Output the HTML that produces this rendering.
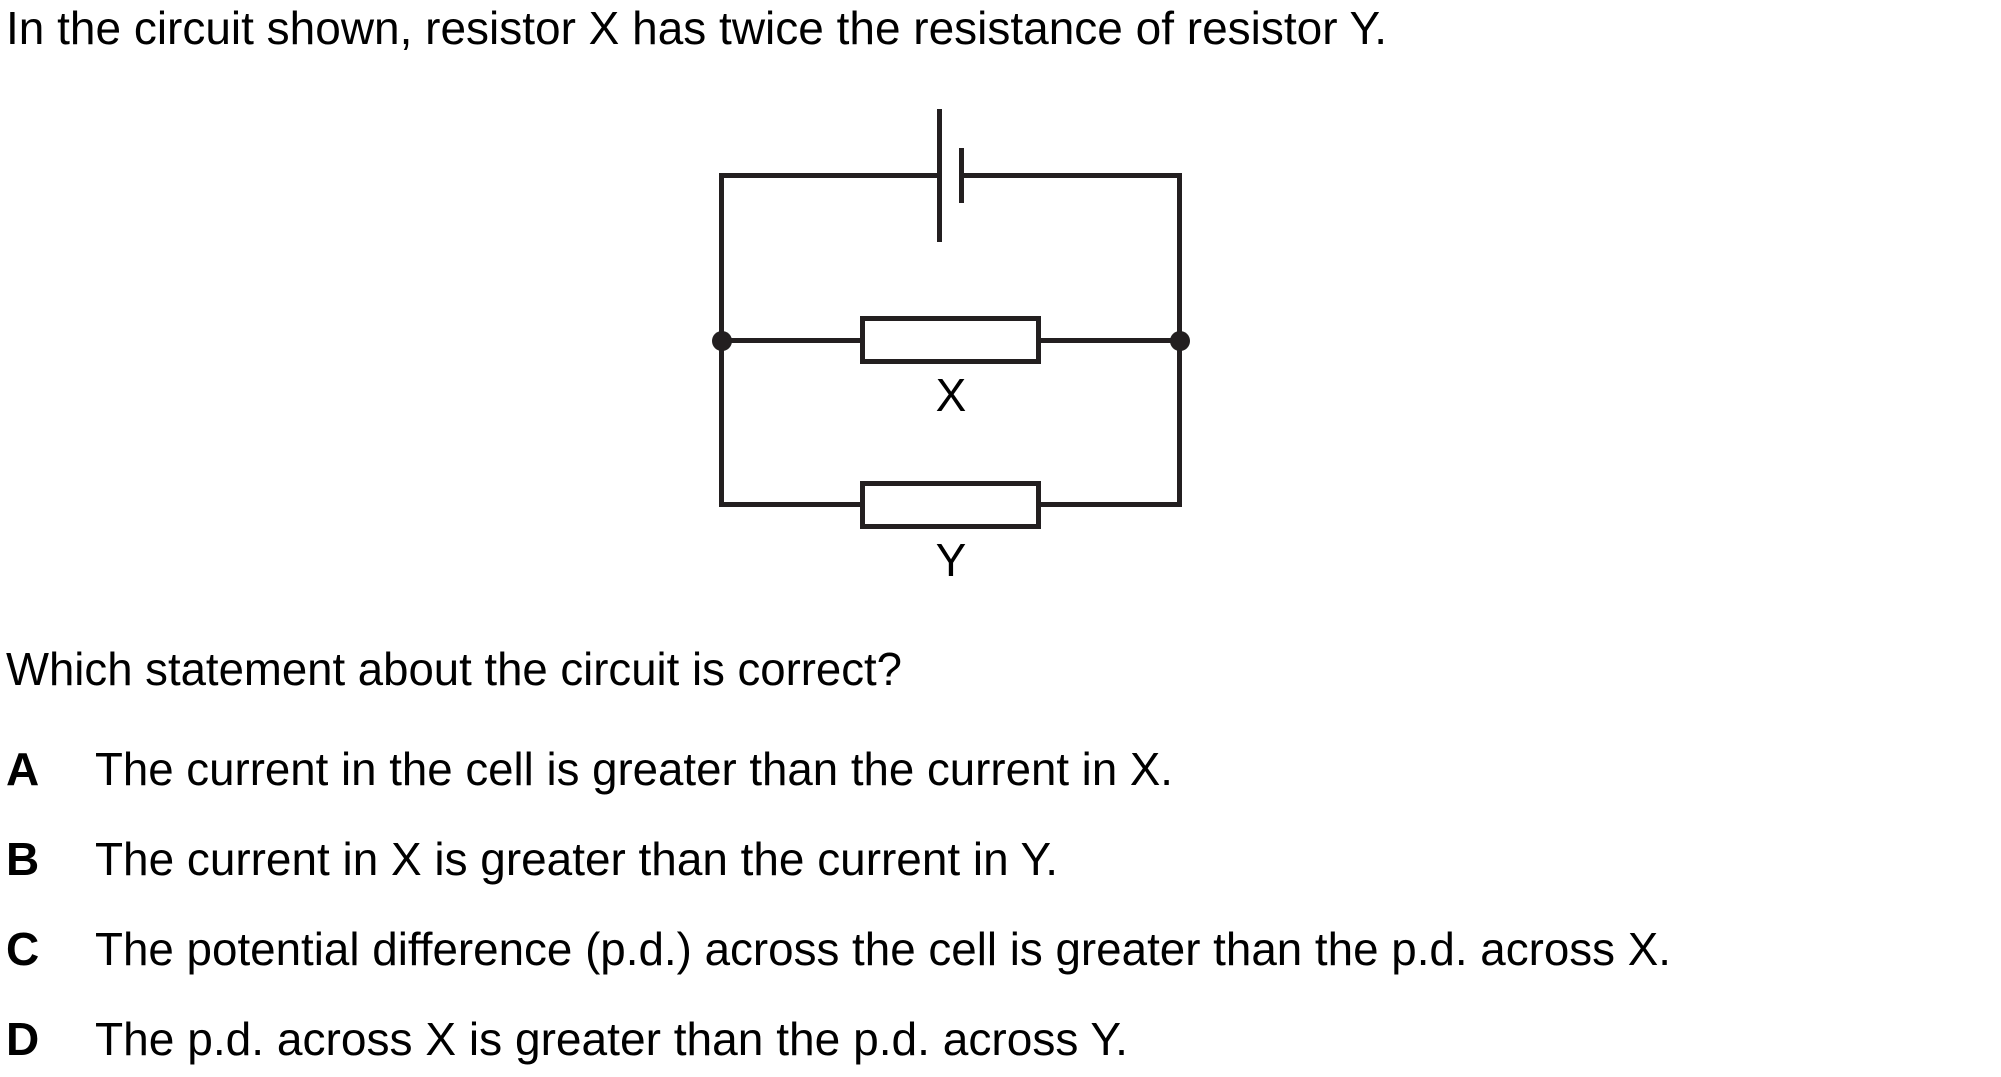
<!DOCTYPE html>
<html><head><meta charset="utf-8"><style>
html,body{margin:0;padding:0;background:#fff;width:2001px;height:1077px;overflow:hidden}
svg{display:block}
text{font-family:"Liberation Sans",Arial,sans-serif;fill:#000}
</style></head><body>
<svg width="2001" height="1077" viewBox="0 0 2001 1077" xmlns="http://www.w3.org/2000/svg">
<g font-size="46">
<text x="6" y="44" textLength="1381" lengthAdjust="spacingAndGlyphs">In the circuit shown, resistor X has twice the resistance of resistor Y.</text>
<text x="6" y="685" textLength="896" lengthAdjust="spacingAndGlyphs">Which statement about the circuit is correct?</text>
<text x="6" y="785" font-weight="bold">A</text>
<text x="95" y="785" textLength="1078" lengthAdjust="spacingAndGlyphs">The current in the cell is greater than the current in X.</text>
<text x="6" y="875" font-weight="bold">B</text>
<text x="95" y="875" textLength="963" lengthAdjust="spacingAndGlyphs">The current in X is greater than the current in Y.</text>
<text x="6" y="965" font-weight="bold">C</text>
<text x="95" y="965" textLength="1576" lengthAdjust="spacingAndGlyphs">The potential difference (p.d.) across the cell is greater than the p.d. across X.</text>
<text x="6" y="1055" font-weight="bold">D</text>
<text x="95" y="1055" textLength="1033" lengthAdjust="spacingAndGlyphs">The p.d. across X is greater than the p.d. across Y.</text>
</g>
<g stroke="#231f20" stroke-width="5" fill="none">
<polyline points="939.5,175.5 721.5,175.5 721.5,504.5 862.5,504.5"/>
<polyline points="961.5,175.5 1179.5,175.5 1179.5,504.5 1038.5,504.5"/>
<line x1="721.5" y1="340.5" x2="862.5" y2="340.5"/>
<line x1="1038.5" y1="340.5" x2="1179.5" y2="340.5"/>
<line x1="939.5" y1="109" x2="939.5" y2="242"/>
<line x1="961.5" y1="148" x2="961.5" y2="203"/>
<rect x="862.5" y="318.5" width="176" height="43"/>
<rect x="862.5" y="483.5" width="176" height="43"/>
</g>
<circle cx="722" cy="341" r="10" fill="#231f20"/>
<circle cx="1180" cy="341" r="10" fill="#231f20"/>
<g font-size="46" text-anchor="middle">
<text x="951" y="411" fill="#231f20">X</text>
<text x="951" y="576" fill="#231f20">Y</text>
</g>
</svg>
</body></html>
